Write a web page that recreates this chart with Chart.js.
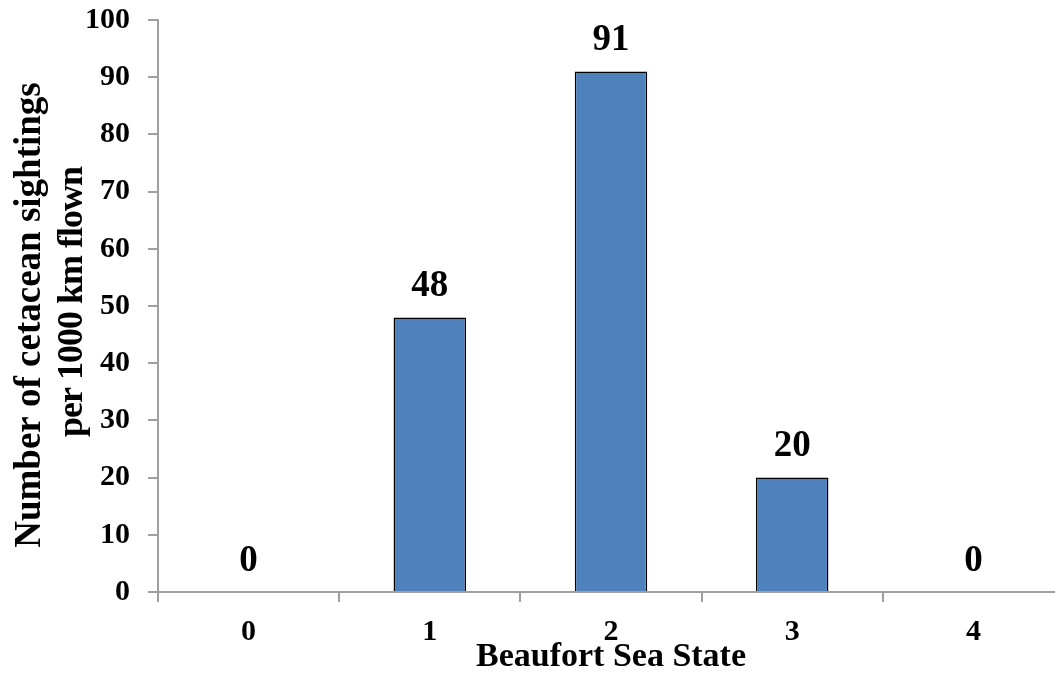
<!DOCTYPE html>
<html>
<head>
<meta charset="utf-8">
<script src="https://cdn.jsdelivr.net/npm/chart.js@4"></script>
<style>
  html, body { margin: 0; padding: 0; background: #fff; overflow: hidden; }
  .chart-wrapper { width: 1064px; height: 681px; }
</style>
</head>
<body>
<div class="chart-wrapper"><canvas id="chart"></canvas></div>
<script>
const categories = ["0", "1", "2", "3", "4"]
const sightings = [0, 48, 91, 20, 0]
const yTitleLines = ["Number of cetacean sightings", "per 1000 km flown"]
const xTitle = "Beaufort Sea State"

const font = "'Liberation Serif', 'Times New Roman', serif"
const axisGrey = "#a0a0a0"

// Draw value labels above each bar
const valueLabels = {
  id: "valueLabels",
  afterDatasetsDraw: (chart) => {
    const ctx = chart.ctx
    const meta = chart.getDatasetMeta(0)
    ctx.save()
    ctx.font = `bold 37px ${font}`
    ctx.fillStyle = "#000"
    ctx.textAlign = "center"
    ctx.textBaseline = "middle"
    meta.data.forEach((bar, i) => {
      ctx.fillText(String(sightings[i]), bar.x, bar.y - 31)
    })
    ctx.restore()
  },
}

// Two-line rotated y axis title (second line is set a bit tighter, like the original)
const yTitle = {
  id: "yTitle",
  afterDraw: (chart) => {
    const ctx = chart.ctx
    const area = chart.chartArea
    const mid = (area.top + area.bottom) / 2
    ctx.save()
    ctx.fillStyle = "#000"
    ctx.textAlign = "center"
    ctx.textBaseline = "alphabetic"

    ctx.save()
    ctx.translate(40, mid + 9)
    ctx.rotate(-Math.PI / 2)
    ctx.font = `bold 37px ${font}`
    ctx.fillText(yTitleLines[0], 0, 0)
    ctx.restore()

    ctx.save()
    ctx.translate(82, mid - 4)
    ctx.rotate(-Math.PI / 2)
    ctx.font = `bold 36px ${font}`
    ctx.letterSpacing = "-1px"
    ctx.fillText(yTitleLines[1], 0, 0)
    ctx.restore()

    ctx.restore()
  },
}

new Chart(document.getElementById("chart"), {
  type: "bar",
  data: {
    labels: categories,
    datasets: [
      {
        data: sightings,
        backgroundColor: "#4f81bd",
        borderColor: "#000",
        borderWidth: 1.5,
        categoryPercentage: 1,
        barPercentage: 0.4,
      },
    ],
  },
  options: {
    responsive: true,
    maintainAspectRatio: false,
    animation: false,
    layout: { padding: { top: 20, right: 0, left: 0, bottom: 0 } },
    plugins: {
      legend: { display: false },
      tooltip: { enabled: false },
    },
    scales: {
      x: {
        grid: { drawOnChartArea: false, tickLength: 10, color: axisGrey, lineWidth: 2 },
        border: { color: axisGrey, width: 2 },
        ticks: { color: "#000", padding: 12, font: { family: font, size: 30, weight: "bold" } },
        title: {
          display: true,
          text: xTitle,
          color: "#000",
          padding: { top: 0, bottom: 7 },
          font: { family: font, size: 34, weight: "bold", lineHeight: 1 },
        },
        afterFit: (scale) => { scale.height = 89 },
      },
      y: {
        min: 0,
        max: 100,
        grid: { drawOnChartArea: false, tickLength: 10, color: axisGrey, lineWidth: 2 },
        border: { color: axisGrey, width: 2 },
        ticks: { stepSize: 10, color: "#000", padding: 18, font: { family: font, size: 30, weight: "bold" } },
        title: { display: false },
        afterFit: (scale) => {
          scale.width = 158
          scale.paddingTop = 0
          scale.paddingBottom = 0
        },
      },
    },
  },
  plugins: [valueLabels, yTitle],
})
</script>
</body>
</html>
